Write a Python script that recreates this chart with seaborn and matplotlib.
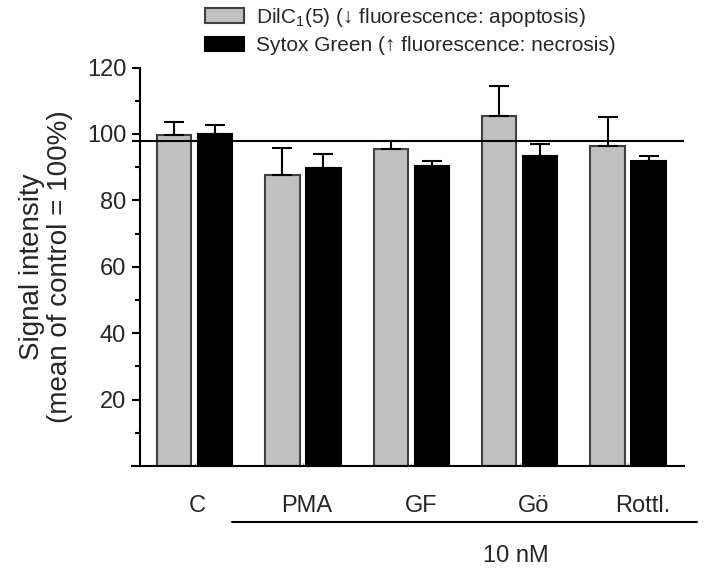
import numpy as np
import pandas as pd
import matplotlib
matplotlib.use("Agg")
import matplotlib.pyplot as plt
import matplotlib.transforms as mtransforms
from matplotlib.patches import Patch
import seaborn as sns

# ---- data ----
groups = ["C", "PMA", "GF", "Gö", "Rottl."]
series = ["DilC$_1$(5) (↓ fluorescence: apoptosis)",
          "Sytox Green (↑ fluorescence: necrosis)"]
dilc_mean = [99.8, 87.5, 95.4, 105.4, 96.3]
dilc_err = [3.7, 8.3, 2.5, 9.0, 8.7]
sytox_mean = [100.0, 89.7, 90.2, 93.4, 91.8]
sytox_err = [2.6, 4.4, 1.5, 3.6, 1.5]
control_line = 98.0
y_ticks = [20, 40, 60, 80, 100, 120]
y_minor = [10, 30, 50, 70, 90, 110]
bracket_label = "10 nM"

sns.set_theme(style="white")
plt.rcParams["font.family"] = ["Liberation Sans", "DejaVu Sans"]
plt.rcParams["mathtext.fontset"] = "custom"
plt.rcParams["mathtext.rm"] = "Liberation Sans"
plt.rcParams["mathtext.it"] = "Liberation Sans:italic"
plt.rcParams["mathtext.bf"] = "Liberation Sans:bold"

df = pd.DataFrame({
    "group": groups * 2,
    "value": dilc_mean + sytox_mean,
    "series": [series[0]] * len(groups) + [series[1]] * len(groups),
})
errs = {series[0]: dilc_err, series[1]: sytox_err}
colors = {series[0]: "#c0c0c0", series[1]: "#000000"}
edges = {series[0]: "#404040", series[1]: "#000000"}

fig = plt.figure(figsize=(7.04, 5.70), dpi=100)
ax = fig.add_axes([132 / 704, 1 - 466 / 570, (684 - 132) / 704, (466 - 67.5) / 570])

sns.barplot(data=df, x="group", y="value", hue="series", order=groups,
            hue_order=series, palette=colors, width=0.757, gap=0.16,
            saturation=1, linewidth=1.5, edgecolor="#404040", ax=ax,
            legend=False, errorbar=None)

for cont, s in zip(ax.containers, series):
    xs, hs = [], []
    for p in cont.patches:
        p.set_edgecolor(edges[s])
        xs.append(p.get_x() + p.get_width() / 2)
        hs.append(p.get_height())
    e = np.array(errs[s])
    ax.errorbar(xs, hs, yerr=[np.zeros_like(e), e], fmt="none",
                ecolor="black", elinewidth=1.5, capsize=7, capthick=1.5,
                zorder=1)

ax.axhline(control_line, color="black", lw=1.5, zorder=3)

ax.set_xlim(-0.577, 4.516)
ax.set_ylim(0, 120)
ax.spines["left"].set_position(("data", -0.503))
for sp in ["top", "right"]:
    ax.spines[sp].set_visible(False)
for sp in ["left", "bottom"]:
    ax.spines[sp].set_color("black")
    ax.spines[sp].set_linewidth(1.5)

ax.set_yticks(y_ticks)
ax.set_yticklabels([str(t) for t in y_ticks])
ax.set_yticks(y_minor, minor=True)
ax.tick_params(axis="y", which="major", direction="out", length=6, width=1.5,
               color="black", labelsize=17, pad=4, left=True)
ax.tick_params(axis="y", which="minor", direction="out", length=3.5, width=1.5,
               color="black", left=True)
ax.tick_params(axis="x", which="major", direction="in", length=2, width=0.8,
               color="#999999", labelsize=17, pad=21, bottom=True)
# slight rightward nudges of the category labels, as in the reference
label_shift_px = [3, 4, 10, 14, 15]
for lab, dx in zip(ax.get_xticklabels(), label_shift_px):
    lab.set_transform(lab.get_transform() +
                      mtransforms.ScaledTranslation(dx / 100, 0, fig.dpi_scale_trans))
ax.set_xlabel("")
ax.set_ylabel("Signal intensity\n(mean of control = 100%)", fontsize=20,
              labelpad=10, linespacing=1.1)

trans = mtransforms.blended_transform_factory(ax.transData, ax.transAxes)
ax.plot([0.343, 4.633], [-0.14, -0.14], color="black", lw=1.5,
        transform=trans, clip_on=False)
ax.text(2.966, -0.226, bracket_label, transform=trans, ha="center",
        va="center", fontsize=17)

handles = [Patch(facecolor=colors[s], edgecolor=edges[s], linewidth=1.5)
           for s in series]
fig.legend(handles, series, loc="upper left",
           bbox_to_anchor=(205 / 704, 1 - 6 / 570), frameon=False,
           fontsize=15, handlelength=1.87, handleheight=0.72,
           handletextpad=0.6, labelspacing=0.35, borderpad=0,
           borderaxespad=0)

fig.savefig("out.png", dpi=100)
